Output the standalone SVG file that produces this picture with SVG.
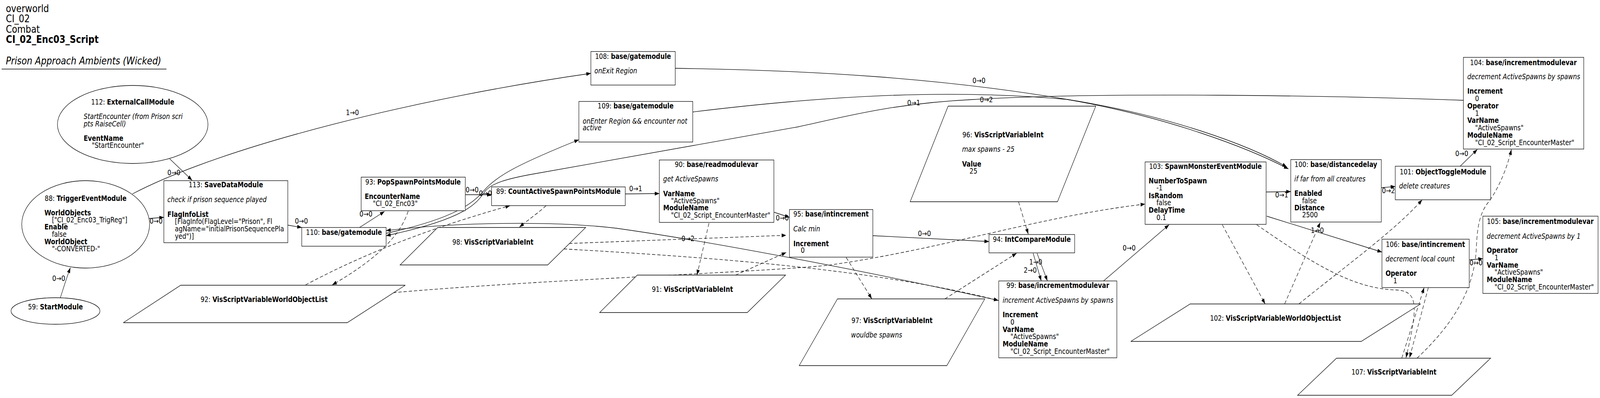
<svg xmlns="http://www.w3.org/2000/svg" width="4931" height="1020" viewBox="0 0 4931 1020" preserveAspectRatio="none" style="width:100%;height:100%;display:block">
<style>
text{font-family:"DejaVu Sans","Liberation Sans",sans-serif;font-size:19px;fill:#000}
.h{font-size:26.7px}
.b{font-weight:bold}
.i{font-style:italic}
.m{text-anchor:middle}
.n{fill:#fff;stroke:#000;stroke-width:1.3}
.e{fill:none;stroke:#000;stroke-width:1.3}
.d{stroke-dasharray:10,6}
</style>
<defs>
<marker id="a" viewBox="0 0 14 10" refX="14" refY="5" markerWidth="14" markerHeight="10" markerUnits="userSpaceOnUse" orient="auto"><path d="M0,0L14,5L0,10z" fill="#000"/></marker>
</defs>
<rect width="4931" height="1020" fill="#fff"/>
<g id="header">
<text class="h" x="18" y="31">overworld</text>
<text class="h" x="18" y="57">CI_02</text>
<text class="h" x="18" y="84">Combat</text>
<text class="h b" x="18" y="110">CI_02_Enc03_Script</text>
<text class="h i" x="18" y="165">Prison Approach Ambients (Wicked)</text>
<line x1="5" y1="177" x2="513" y2="177" stroke="#000" stroke-width="1.5"/>
</g>
<g id="edges">
<path class="e" marker-end="url(#a)" d="M186,763 C195,740 205,712 217,686"/>
<text x="161" y="720">0→0</text>
<path class="e" marker-end="url(#a)" d="M523,407 L592,462"/>
<text x="516" y="449">0→0</text>
<path class="e" marker-end="url(#a)" d="M459,560 L505,557"/>
<text x="461" y="573">0→0</text>
<path class="e" marker-end="url(#a)" d="M408,497 C700,370 1300,250 1821,188"/>
<text x="1066" y="295">1→0</text>
<path class="e" marker-end="url(#a)" d="M887,577 L930,583"/>
<text x="909" y="573">0→0</text>
<path class="e" marker-end="url(#a)" d="M1108,583 L1185,542"/>
<text x="1108" y="555">0→0</text>
<path class="e" marker-end="url(#a)" d="M1434,499 L1515,499"/>
<text x="1435" y="493">0→0</text>
<path class="e" marker-end="url(#a)" d="M1190,598 C1400,560 1460,520 1490,490 C1530,450 1600,420 1784,358"/>
<text x="1476" y="502">0→0</text>
<path class="e" marker-end="url(#a)" d="M1927,497 L2032,496"/>
<text x="1939" y="490">0→1</text>
<path class="e" marker-end="url(#a)" d="M2386,544 L2433,557"/>
<text x="2391" y="565">0→0</text>
<path class="e" marker-end="url(#a)" d="M2690,604 L3048,619"/>
<text x="2829" y="605">0→0</text>
<path class="e" marker-end="url(#a)" d="M3196,649 L3228,720"/>
<text x="3172" y="678">1→0</text>
<path class="e" marker-end="url(#a)" d="M3184,649 L3209,720"/>
<text x="3155" y="699">2→0</text>
<path class="e" marker-end="url(#a)" d="M3401,720 L3603,576"/>
<text x="3460" y="642">0→0</text>
<path class="e" marker-end="url(#a)" d="M3902,492 L3978,491"/>
<text x="3930" y="506">0→1</text>
<path class="e" marker-end="url(#a)" d="M3904,554 L4259,646"/>
<text x="4040" y="597">1→0</text>
<path class="e" marker-end="url(#a)" d="M4257,481 L4300,478"/>
<text x="4259" y="495">0→2</text>
<path class="e" marker-end="url(#a)" d="M4500,426 L4553,383"/>
<text x="4485" y="400">0→0</text>
<path class="e" marker-end="url(#a)" d="M4528,666 L4570,663"/>
<text x="4529" y="680">0→0</text>
<path class="e" marker-end="url(#a)" d="M2081,175 C2500,180 2900,200 3290,255 C3600,300 3850,380 3971,433"/>
<text x="2997" y="213">0→0</text>
<path class="e" marker-end="url(#a)" d="M2135,287 C2500,250 2900,225 3290,255 C3600,295 3850,372 3966,428"/>
<text x="3020" y="262">0→2</text>
<path class="e" marker-end="url(#a)" d="M4510,257 C4100,245 3400,235 3000,255 C2750,265 2600,300 2460,325 L1650,445 C1560,458 1515,470 1495,490 C1470,520 1440,560 1190,604"/>
<text x="2796" y="270">0→1</text>
<path class="e" marker-end="url(#a)" d="M3077,770 C2700,700 2200,620 1900,585 C1700,565 1400,570 1190,591"/>
<text x="2100" y="618">0→2</text>
<path class="e d" marker-end="url(#a)" d="M1258,541 C1235,600 1170,660 1024,730"/>
<path class="e d" marker-end="url(#a)" d="M942,730 C1100,660 1300,590 1572,527"/>
<path class="e d" marker-end="url(#a)" d="M1683,527 C1660,545 1625,565 1601,582"/>
<path class="e d" marker-end="url(#a)" d="M1212,750 C1700,715 2300,700 2550,680 C2900,640 3200,555 3529,523"/>
<path class="e d" marker-end="url(#a)" d="M1754,624 L2423,603"/>
<path class="e d" marker-end="url(#a)" d="M1738,638 C2200,660 2700,690 3077,770"/>
<path class="e d" marker-end="url(#a)" d="M2185,572 L2148,705"/>
<path class="e d" marker-end="url(#a)" d="M2267,705 L2423,647"/>
<path class="e d" marker-end="url(#a)" d="M2608,660 L2687,766"/>
<path class="e d" marker-end="url(#a)" d="M2912,766 L3133,649"/>
<path class="e d" marker-end="url(#a)" d="M3139,517 L3169,600"/>
<path class="e d" marker-end="url(#a)" d="M3767,576 L3899,779"/>
<path class="e d" marker-end="url(#a)" d="M3959,779 L4069,570"/>
<path class="e d" marker-end="url(#a)" d="M4003,779 C4150,680 4300,590 4383,512"/>
<path class="e d" marker-end="url(#a)" d="M3873,576 C4020,660 4160,740 4300,743 C4370,745 4372,780 4333,917"/>
<path class="e d" marker-end="url(#a)" d="M4402,737 L4344,917"/>
<path class="e d" marker-end="url(#a)" d="M4320,918 L4389,737"/>
<path class="e d" marker-end="url(#a)" d="M4367,918 C4480,830 4545,740 4550,633 C4553,580 4560,545 4590,515 C4620,480 4645,430 4658,383"/>
</g>
<g id="n59">
<ellipse class="n" cx="171" cy="797" rx="137" ry="34"/>
<text class="m" x="171" y="793">59: <tspan class="b">StartModule</tspan></text>
</g>
<g id="n88">
<ellipse class="n" cx="264" cy="575" rx="197" ry="112"/>
<text class="m" x="264" y="515">88: <tspan class="b">TriggerEventModule</tspan></text>
<text class="b" x="137" y="552">WorldObjects</text>
<text x="160" y="570">["CI_02_Enc03_TrigReg"]</text>
<text class="b" x="137" y="588">Enable</text>
<text x="160" y="607">false</text>
<text class="b" x="137" y="626">WorldObject</text>
<text x="160" y="644">"-CONVERTED-"</text>
</g>
<g id="n112">
<ellipse class="n" cx="409" cy="319" rx="232" ry="100"/>
<text class="m" x="409" y="268">112: <tspan class="b">ExternalCallModule</tspan></text>
<text class="i" x="258" y="305">StartEncounter (from Prison scri</text>
<text class="i" x="258" y="324">pts RaiseCell)</text>
<text class="b" x="258" y="361">EventName</text>
<text x="283" y="379">"StartEncounter"</text>
</g>
<g id="n113">
<rect class="n" x="505" y="463" width="382" height="159"/>
<text class="m" x="696" y="480">113: <tspan class="b">SaveDataModule</tspan></text>
<text class="i" x="516" y="518">check if prison sequence played</text>
<text class="b" x="516" y="556">FlagInfoList</text>
<text x="539" y="574">[FlagInfo(FlagLevel="Prison", Fl</text>
<text x="539" y="593">agName="initialPrisonSequencePla</text>
<text x="539" y="612">yed")]</text>
</g>
<g id="n110">
<rect class="n" x="930" y="583" width="260" height="48"/>
<text class="m" x="1060" y="602">110: <tspan class="b">base/gatemodule</tspan></text>
</g>
<g id="n93">
<rect class="n" x="1113" y="454" width="321" height="86"/>
<text class="m" x="1273" y="473">93: <tspan class="b">PopSpawnPointsModule</tspan></text>
<text class="b" x="1124" y="510">EncounterName</text>
<text x="1149" y="528">"CI_02_Enc03"</text>
</g>
<g id="n89">
<rect class="n" x="1515" y="479" width="412" height="48"/>
<text class="m" x="1721" y="497">89: <tspan class="b">CountActiveSpawnPointsModule</tspan></text>
</g>
<g id="n108">
<rect class="n" x="1821" y="132" width="260" height="86"/>
<text class="m" x="1951" y="151">108: <tspan class="b">base/gatemodule</tspan></text>
<text class="i" x="1832" y="188">onExit Region</text>
</g>
<g id="n109">
<rect class="n" x="1784" y="260" width="351" height="104"/>
<text class="m" x="1959" y="278">109: <tspan class="b">base/gatemodule</tspan></text>
<text class="i" x="1796" y="317">onEnter Region &amp;&amp; encounter not</text>
<text class="i" x="1796" y="334">active</text>
</g>
<g id="n90">
<rect class="n" x="2032" y="410" width="353" height="160"/>
<text class="m" x="2208" y="428">90: <tspan class="b">base/readmodulevar</tspan></text>
<text class="i" x="2044" y="465">get ActiveSpawns</text>
<text class="b" x="2044" y="503">VarName</text>
<text x="2068" y="521">"ActiveSpawns"</text>
<text class="b" x="2044" y="539">ModuleName</text>
<text x="2068" y="558">"CI_02_Script_EncounterMaster"</text>
</g>
<g id="n95">
<rect class="n" x="2433" y="537" width="257" height="122"/>
<text class="m" x="2561" y="555">95: <tspan class="b">base/intincrement</tspan></text>
<text class="i" x="2445" y="593">Calc min</text>
<text class="b" x="2445" y="631">Increment</text>
<text x="2468" y="648">0</text>
</g>
<g id="n94">
<rect class="n" x="3048" y="601" width="264" height="47"/>
<text class="m" x="3180" y="620">94: <tspan class="b">IntCompareModule</tspan></text>
</g>
<g id="n96">
<polygon class="n" points="2922,272 3377,272 3259,517 2805,517"/>
<text class="m" x="3091" y="352">96: <tspan class="b">VisScriptVariableInt</tspan></text>
<text class="i" x="2965" y="389">max spawns - 25</text>
<text class="b" x="2965" y="427">Value</text>
<text x="2988" y="445">25</text>
</g>
<g id="n97">
<polygon class="n" points="2581,766 3035,766 2918,937 2463,937"/>
<text class="m" x="2749" y="828">97: <tspan class="b">VisScriptVariableInt</tspan></text>
<text class="i" x="2623" y="865">wouldbe spawns</text>
</g>
<g id="n98">
<polygon class="n" points="1349,583 1805,583 1688,679 1233,679"/>
<text class="m" x="1519" y="627">98: <tspan class="b">VisScriptVariableInt</tspan></text>
</g>
<g id="n91">
<polygon class="n" points="1964,705 2421,705 2303,801 1848,801"/>
<text class="m" x="2134" y="748">91: <tspan class="b">VisScriptVariableInt</tspan></text>
</g>
<g id="n92">
<polygon class="n" points="557,731 1249,731 1070,827 380,827"/>
<text class="m" x="814" y="774">92: <tspan class="b">VisScriptVariableWorldObjectList</tspan></text>
</g>
<g id="n99">
<rect class="n" x="3078" y="720" width="364" height="197"/>
<text class="m" x="3260" y="738">99: <tspan class="b">base/incrementmodulevar</tspan></text>
<text class="i" x="3090" y="776">increment ActiveSpawns by spawns</text>
<text class="b" x="3090" y="813">Increment</text>
<text x="3114" y="832">0</text>
<text class="b" x="3090" y="851">VarName</text>
<text x="3114" y="869">"ActiveSpawns"</text>
<text class="b" x="3090" y="888">ModuleName</text>
<text x="3114" y="907">"CI_02_Script_EncounterMaster"</text>
</g>
<g id="n103">
<rect class="n" x="3529" y="415" width="373" height="160"/>
<text class="m" x="3715" y="433">103: <tspan class="b">SpawnMonsterEventModule</tspan></text>
<text class="b" x="3540" y="470">NumberToSpawn</text>
<text x="3564" y="488">-1</text>
<text class="b" x="3540" y="508">IsRandom</text>
<text x="3564" y="526">false</text>
<text class="b" x="3540" y="545">DelayTime</text>
<text x="3564" y="564">0.1</text>
</g>
<g id="n100">
<rect class="n" x="3978" y="409" width="279" height="160"/>
<text class="m" x="4117" y="428">100: <tspan class="b">base/distancedelay</tspan></text>
<text class="i" x="3989" y="465">if far from all creatures</text>
<text class="b" x="3989" y="502">Enabled</text>
<text x="4013" y="521">false</text>
<text class="b" x="3989" y="539">Distance</text>
<text x="4013" y="557">2500</text>
</g>
<g id="n101">
<rect class="n" x="4300" y="426" width="294" height="86"/>
<text class="m" x="4447" y="447">101: <tspan class="b">ObjectToggleModule</tspan></text>
<text class="i" x="4312" y="483">delete creatures</text>
</g>
<g id="n104">
<rect class="n" x="4510" y="147" width="371" height="235"/>
<text class="m" x="4695" y="167">104: <tspan class="b">base/incrementmodulevar</tspan></text>
<text class="i" x="4522" y="203">decrement ActiveSpawns by spawns</text>
<text class="b" x="4522" y="240">Increment</text>
<text x="4546" y="259">0</text>
<text class="b" x="4522" y="278">Operator</text>
<text x="4546" y="297">1</text>
<text class="b" x="4522" y="315">VarName</text>
<text x="4546" y="334">"ActiveSpawns"</text>
<text class="b" x="4522" y="353">ModuleName</text>
<text x="4546" y="372">"CI_02_Script_EncounterMaster"</text>
</g>
<g id="n105">
<rect class="n" x="4570" y="554" width="355" height="198"/>
<text class="m" x="4747" y="574">105: <tspan class="b">base/incrementmodulevar</tspan></text>
<text class="i" x="4582" y="612">decrement ActiveSpawns by 1</text>
<text class="b" x="4582" y="648">Operator</text>
<text x="4606" y="667">1</text>
<text class="b" x="4582" y="686">VarName</text>
<text x="4606" y="704">"ActiveSpawns"</text>
<text class="b" x="4582" y="723">ModuleName</text>
<text x="4606" y="742">"CI_02_Script_EncounterMaster"</text>
</g>
<g id="n106">
<rect class="n" x="4259" y="613" width="269" height="124"/>
<text class="m" x="4393" y="633">106: <tspan class="b">base/intincrement</tspan></text>
<text class="i" x="4270" y="670">decrement local count</text>
<text class="b" x="4270" y="707">Operator</text>
<text x="4294" y="726">1</text>
</g>
<g id="n107">
<polygon class="n" points="4119,918 4594,918 4474,1013 3999,1013"/>
<text class="m" x="4296" y="960">107: <tspan class="b">VisScriptVariableInt</tspan></text>
</g>
<g id="n102">
<polygon class="n" points="3668,779 4378,779 4195,875 3485,875"/>
<text class="m" x="3931" y="822">102: <tspan class="b">VisScriptVariableWorldObjectList</tspan></text>
</g>
</svg>
